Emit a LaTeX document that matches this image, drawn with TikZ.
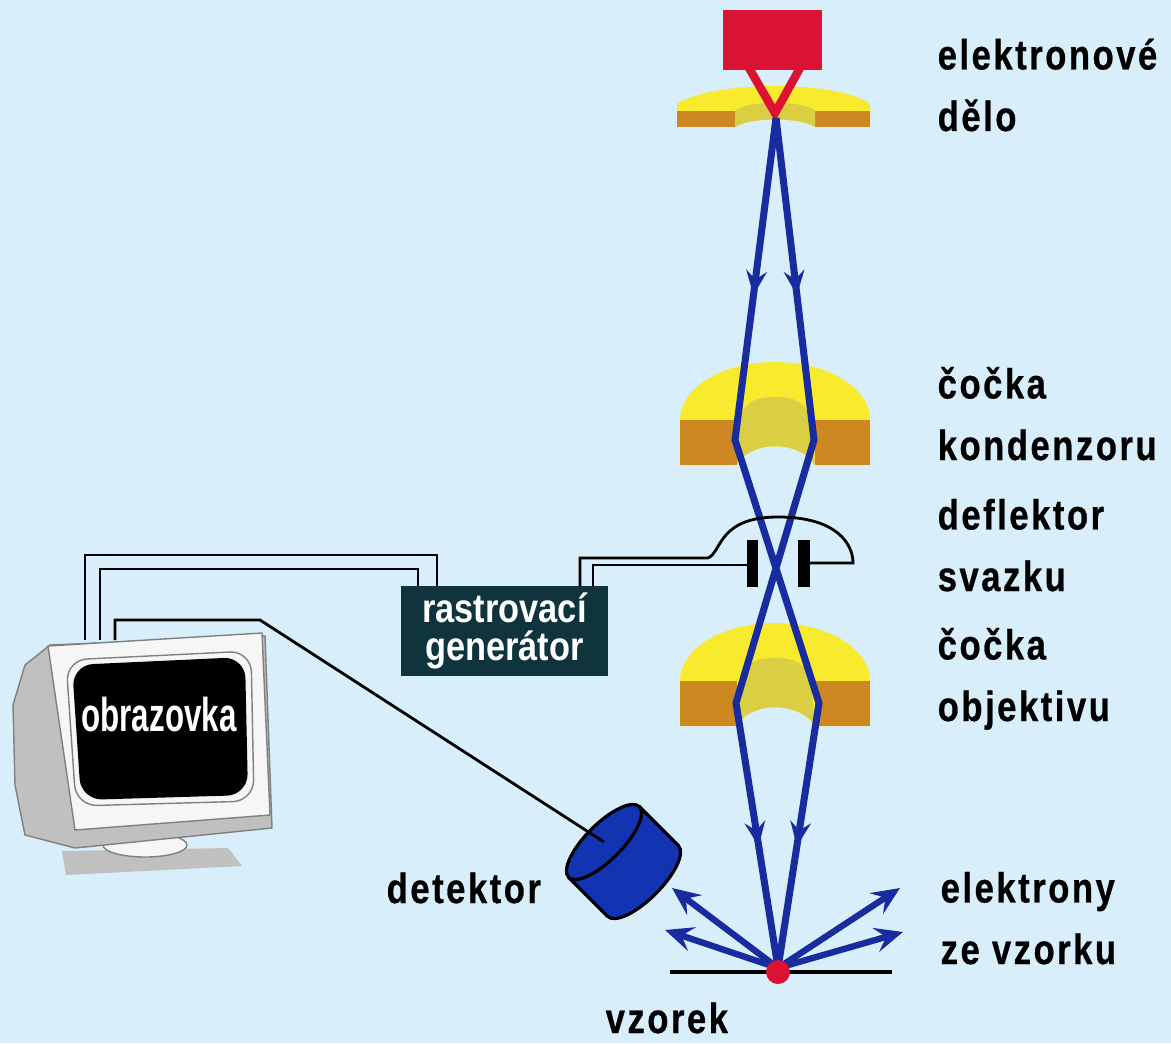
\documentclass[tikz,border=0pt]{standalone}
\usepackage{fontspec}
\setmainfont{Liberation Sans}
\newfontfamily\lblfont{Liberation Sans}[FakeStretch=0.82,LetterSpace=6,FakeBold=0.6]
\newfontfamily\genfont{Liberation Sans}[FakeStretch=0.85]
\newfontfamily\scrfont{Liberation Sans}[FakeStretch=0.66]
\usetikzlibrary{arrows.meta,calc,decorations.markings,positioning}

\definecolor{bgblue}{RGB}{216,238,250}
\definecolor{gunred}{RGB}{218,18,52}
\definecolor{lensyellow}{RGB}{248,234,45}
\definecolor{lensbrown}{RGB}{206,136,34}
\definecolor{lenscore}{RGB}{218,206,66}
\definecolor{beamblue}{RGB}{24,44,160}
\definecolor{detblue}{RGB}{18,52,178}
\definecolor{genbox}{RGB}{16,52,62}
\definecolor{monwhite}{RGB}{246,246,246}
\definecolor{mongrey}{RGB}{192,192,192}

\tikzset{
lbl/.style={
  anchor=base west,
  inner sep=0pt,
  align=left,
  font={\lblfont\bfseries\fontsize{12pt}{17.5pt}\selectfont},
  }
}
\tikzset{
beam/.style={
  line width=2pt,
  draw=beamblue,
  },
beamtip/.style={
  color=beamblue,
  decoration={markings, mark=at position #1 with {\arrow{Stealth[length=7pt,width=6pt,inset=2.5pt]}}},
  postaction={decorate},
  },
emit/.style={
  line width=1.8pt,
  draw=beamblue,
  -{Stealth[length=8pt,width=7pt,inset=3pt,fill=beamblue]}
  },
wire/.style={
  line width=0.8pt,
  }
}

\begin{document}
\begin{tikzpicture}[x=0.01cm, y=-0.01cm]
    \useasboundingbox (0,0) rectangle (1171,1043);
    \fill[bgblue] (0,0) rectangle (1171,1043);

    % anode under the gun
    \fill[lensyellow] (677,127) -- (677,104) .. controls (695,92) and (735,86) .. (775,86)
        .. controls (815,86) and (855,92) .. (870,104) -- (870,127) -- (815,127)
        .. controls (800,117) and (750,117) .. (735,127) -- cycle;
    \fill[lensbrown] (677,111) rectangle (735,127);
    \fill[lensbrown] (815,111) rectangle (870,127);
    \fill[lenscore] (735,127) -- (735,111) .. controls (745,100) and (805,100) .. (815,111)
        -- (815,127) .. controls (800,117) and (750,117) .. (735,127) -- cycle;

    % electron gun
    \fill[gunred] (723,10) rectangle (822,70);
    \draw[gunred, line width=2.4pt] (749,68) -- (775,113) -- (800,68);

    % condenser and objective lens
    \foreach \dy in {0,261} {
    \begin{scope}[shift={(0,\dy)}]
    \fill[lensyellow] (680,465) -- (680,420) .. controls (680,388) and (722,362) .. (775,362)
        .. controls (828,362) and (870,388) .. (870,420) -- (870,465) -- (815,465)
        .. controls (800,440) and (750,440) .. (735,465) -- cycle;
    \fill[lensbrown] (680,420) rectangle (737,465);
    \fill[lensbrown] (815,420) rectangle (870,465);
    \fill[lenscore] (737,465) -- (739,425) .. controls (742,402) and (755,397) .. (775,397)
        .. controls (795,397) and (808,402) .. (811,425) -- (815,465)
        .. controls (800,440) and (750,440) .. (737,465) -- cycle;
    \end{scope}
    }

    % beam points
    \coordinate (tip) at (776,118);
    \coordinate (cond_l) at (735,440);
    \coordinate (cond_r) at (814,440);
    \coordinate (obj_l) at (736,703);
    \coordinate (obj_r) at (819,703);
    \coordinate (spot) at (778,968);

    % beam
    \draw[beam] (tip) -- (cond_l) -- (obj_r) -- (spot);
    \draw[beam] (tip) -- (cond_r) -- (obj_l) -- (spot);
    \path[beamtip=0.55] (tip) -- (cond_l);
    \path[beamtip=0.55] (tip) -- (cond_r);
    \path[beamtip=0.54] (obj_r) -- (spot);
    \path[beamtip=0.54] (obj_l) -- (spot);

    % deflector plates
    \fill (747,540) rectangle (758,587);
    \fill (798,540) rectangle (810,587);
    \coordinate (plate_l) at (747,565);
    \coordinate (plate_r) at (810,563);
    \coordinate (dome_l) at (708,558);

    % electrons from the sample
    \coordinate (out1) at (672,888);
    \coordinate (out2) at (665,930);
    \coordinate (out3) at (900,888);
    \coordinate (out4) at (903,932);
    \foreach \o in {out1,out2,out3,out4}
        \draw[emit] (spot) -- (\o);

    % sample
    \draw[line width=1.4pt] (670,972) -- (892,972);
    \fill[gunred] (778,972) circle [radius=12];

    % detector
    \coordinate (det_f) at (604,842);
    \coordinate (det_b) at (643,881);
    \draw[line width=0.9pt, fill=detblue, rotate around={45:(det_b)}] (det_b) ellipse [x radius=50, y radius=18];
    \fill[detblue] ($(det_f)+(35.4,-35.4)$) -- ($(det_b)+(35.4,-35.4)$) -- ($(det_b)+(-35.4,35.4)$) -- ($(det_f)+(-35.4,35.4)$) -- cycle;
    \draw[line width=0.9pt] ($(det_f)+(35.4,-35.4)$) -- ($(det_b)+(35.4,-35.4)$);
    \draw[line width=0.9pt] ($(det_f)+(-35.4,35.4)$) -- ($(det_b)+(-35.4,35.4)$);
    \draw[line width=0.9pt, fill=detblue, rotate around={45:(det_f)}] (det_f) ellipse [x radius=50, y radius=18];

    % monitor
    \fill[mongrey] (62,851) -- (228,848) -- (242,866) -- (66,875) -- cycle;
    \draw[gray, line width=0.4pt, fill=monwhite] (145,845) ellipse [x radius=42, y radius=12];
    \draw[gray, line width=0.4pt, fill=mongrey] (50,645) -- (25,665) -- (13,705) -- (15,785) -- (25,835)
        -- (75,848) -- (272,828) -- (265,636) -- cycle;
    \draw[gray, line width=0.4pt, fill=monwhite] (48,646) -- (262,633) -- (270,815) -- (75,830) -- cycle;
    \draw[gray, line width=0.4pt, fill=monwhite, rounded corners=6] (66,660) -- (251,651) -- (254,801) -- (76,806) -- cycle;
    \fill[black, rounded corners=6] (72,665) -- (245,657) -- (248,795) -- (81,800) -- cycle;
    \node[text=white, inner sep=0pt, anchor=base, font={\scrfont\bfseries\fontsize{13.5pt}{14pt}\selectfont}] (screen) at (159,731) {obrazovka};

    % scan generator
    \node[fill=genbox, text=white, inner sep=0pt, minimum width=2.07cm, minimum height=0.9cm,
          align=center, font={\genfont\bfseries\fontsize{11.5pt}{10.8pt}\selectfont}] (gen) at (504.5,631) {rastrovací\\generátor};
    \coordinate (gen_w1) at (437,586);
    \coordinate (gen_w2) at (418,586);
    \coordinate (gen_w3) at (580,586);
    \coordinate (gen_w4) at (593,586);
    \coordinate (mon_w1) at (85,640);
    \coordinate (mon_w2) at (100,640);
    \coordinate (mon_w3) at (115,640);

    % cables
    \draw[wire] (mon_w1) |- (437,555) -- (gen_w1);
    \draw[wire] (mon_w2) |- (418,569) -- (gen_w2);
    \draw[wire] (mon_w3) |- (260,620) -- (det_f);
    \draw[wire] (gen_w3) |- (dome_l) .. controls (722,552) and (718,517) .. (778,517)
        .. controls (838,517) and (853,545) .. (853,563) -- (plate_r);
    \draw[wire] (gen_w4) |- (plate_l);

    % labels (base is the last line)
    \node[lbl] (gun_lbl) at (937,131) {elektronové\\dělo};
    \node[lbl] (cond_lbl) at (937,460) {čočka\\kondenzoru};
    \node[lbl] (defl_lbl) at (937,591) {deflektor\\svazku};
    \node[lbl] (obj_lbl) at (937,721) {čočka\\objektivu};
    \node[lbl] (emit_lbl) at (940,964) {elektrony\\ze vzorku};
    \node[lbl] (det_lbl) at (386,903) {detektor};
    \node[lbl] (smp_lbl) at (605,1033) {vzorek};
\end{tikzpicture}
\end{document}
